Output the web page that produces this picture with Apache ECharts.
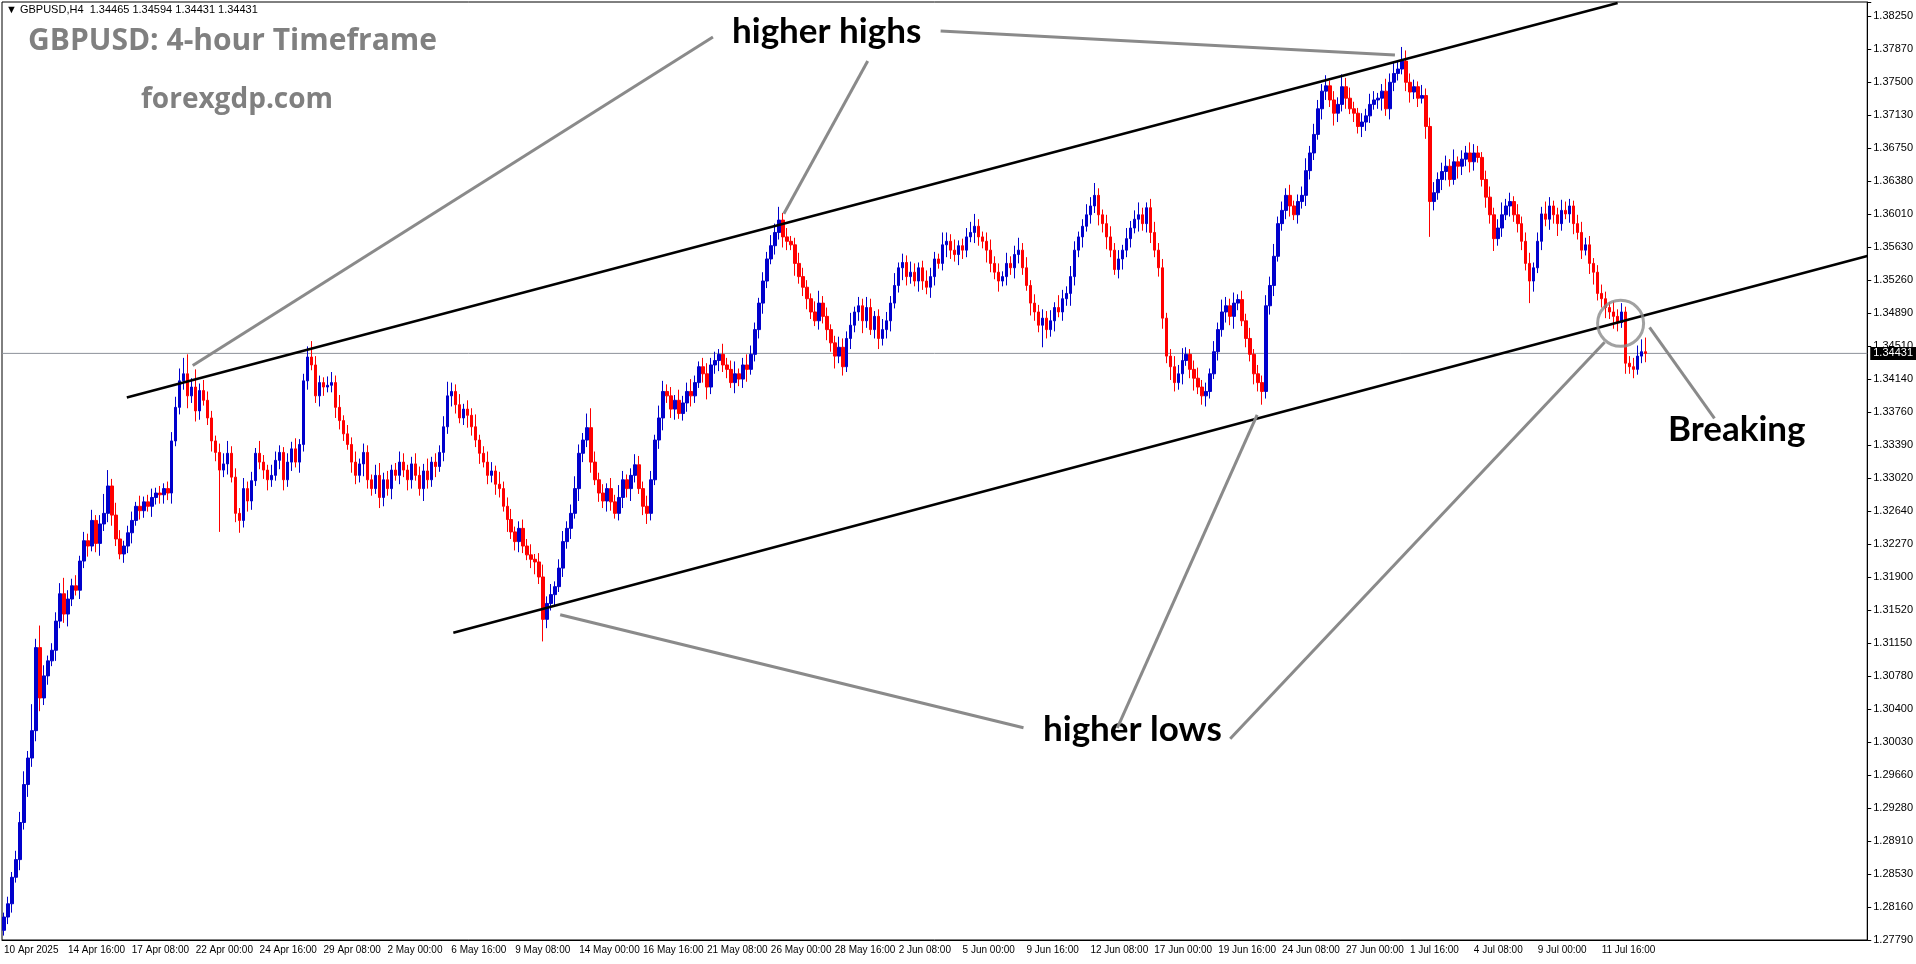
<!DOCTYPE html>
<html><head><meta charset="utf-8">
<script src="https://cdn.jsdelivr.net/npm/echarts@6/dist/echarts.min.js"></script>
<style>html,body{margin:0;padding:0;background:#fff}#c{width:1916px;height:964px}</style>
</head><body><div id="c"></div>
<script>
// closes in 1e-4 units above 1.0000
const closes = [
2805,2820,2850,2870,2912,2955,2985,3016,3110,3053,3078,3095,3107,3140,3171,3148,3165,3180,3175,3208,
3231,3225,3254,3228,3250,3262,3293,3260,3233,3216,3225,3240,3254,3270,3265,3275,3270,3280,3285,3283,
3290,3285,3344,3382,3412,3420,3395,3405,3378,3401,3390,3370,3344,3331,3311,3318,3330,3303,3262,3254,
3290,3276,3299,3330,3320,3311,3300,3305,3322,3331,3300,3320,3335,3320,3340,3412,3439,3430,3395,3410,
3405,3407,3410,3382,3367,3352,3340,3320,3305,3318,3331,3300,3290,3305,3280,3300,3290,3311,3305,3320,
3311,3300,3318,3305,3290,3310,3300,3320,3315,3331,3360,3395,3400,3385,3370,3380,3373,3360,3345,3330,
3320,3305,3310,3295,3290,3270,3255,3241,3230,3245,3225,3215,3210,3207,3190,3142,3160,3170,3179,3200,
3230,3245,3262,3290,3330,3345,3359,3320,3300,3285,3276,3290,3275,3262,3280,3300,3290,3305,3317,3290,
3270,3262,3300,3345,3370,3400,3395,3380,3390,3375,3387,3400,3395,3410,3428,3420,3405,3430,3435,3442,
3430,3425,3410,3420,3414,3430,3425,3442,3470,3500,3525,3550,3565,3580,3594,3575,3570,3566,3545,3530,
3518,3505,3490,3480,3500,3485,3470,3455,3440,3450,3428,3460,3475,3490,3497,3480,3495,3470,3485,3460,
3470,3480,3500,3520,3540,3546,3530,3535,3525,3540,3525,3518,3530,3550,3545,3566,3570,3560,3555,3565,
3560,3575,3580,3587,3575,3570,3560,3545,3535,3525,3530,3545,3540,3555,3560,3540,3520,3500,3490,3475,
3483,3470,3480,3495,3490,3505,3511,3530,3560,3575,3587,3600,3610,3622,3600,3590,3575,3560,3538,3550,
3560,3573,3585,3595,3600,3590,3608,3580,3560,3540,3483,3440,3428,3410,3420,3435,3442,3425,3415,3405,
3395,3400,3420,3445,3470,3490,3497,3485,3500,3504,3480,3460,3442,3420,3410,3400,3497,3520,3553,3590,
3605,3622,3610,3600,3615,3622,3650,3670,3691,3720,3740,3746,3730,3715,3725,3745,3732,3720,3715,3700,
3705,3712,3725,3730,3732,3740,3720,3750,3760,3765,3774,3750,3739,3745,3732,3735,3700,3615,3625,3640,
3649,3655,3640,3660,3655,3663,3670,3660,3670,3665,3640,3620,3600,3573,3585,3600,3610,3615,3600,3590,
3570,3545,3525,3540,3570,3601,3595,3610,3600,3590,3605,3601,3610,3590,3580,3560,3566,3545,3535,3511,
3505,3495,3490,3485,3478,3490,3432,3428,3425,3440,3445,3443.1];
const firstOpen = 2790;
const upWick = [
5,8,6,10,12,15,8,30,10,25,12,6,8,10,12,18,10,8,12,6,
10,8,12,6,10,22,18,8,14,10,6,8,10,5,12,6,8,10,6,8,
6,8,10,12,14,18,22,10,20,8,12,10,8,6,10,12,14,8,10,6,
12,8,10,6,14,8,6,12,10,8,6,10,8,12,6,8,12,18,10,8,
6,10,12,8,14,6,10,8,12,6,10,8,6,12,14,8,10,6,8,12,
10,6,8,12,10,8,14,6,10,8,12,16,10,8,12,6,10,8,14,6,
8,12,10,6,14,8,10,12,6,8,10,8,12,6,10,14,8,12,6,10,
12,8,10,14,10,8,16,22,12,8,10,6,12,8,14,10,6,8,12,10,
8,12,10,6,14,12,8,10,6,12,8,10,14,8,6,10,12,8,10,6,
12,8,10,14,6,8,12,10,8,6,10,8,12,10,15,8,10,6,8,12,
10,8,6,12,14,8,10,6,8,12,10,8,14,6,10,8,12,10,6,8,
12,10,8,14,6,10,8,12,10,6,8,12,10,8,6,14,10,8,12,6,
8,10,12,14,8,6,10,12,8,10,6,12,8,10,14,8,12,6,10,8,
10,8,12,6,14,10,8,12,10,6,8,12,10,14,8,6,10,12,8,10,
6,12,8,10,14,8,6,10,12,8,10,6,8,12,10,14,8,6,10,12,
8,10,6,12,8,14,10,8,12,6,10,8,12,6,10,8,12,10,14,8,
10,8,12,6,8,10,14,8,12,10,8,12,6,10,8,14,10,12,8,6,
10,8,12,10,6,8,14,10,12,8,16,12,10,8,6,12,8,10,12,8,
10,12,8,14,6,10,8,12,10,8,6,10,12,8,10,14,8,10,6,12,
8,10,12,6,10,8,14,10,6,8,12,10,8,6,10,12,8,10,6,8,
10,8,6,12,8,10,6,8,10,12,14,16];
const dnWick = [
6,8,10,6,12,8,14,10,12,15,8,10,6,12,8,10,14,8,6,10,
8,12,6,10,14,8,10,12,8,6,10,8,12,6,10,8,6,12,8,10,
10,8,12,6,8,10,14,8,12,10,6,8,12,10,70,8,12,6,10,14,
8,12,10,6,8,10,12,8,6,10,12,8,10,6,12,8,10,6,8,12,
10,6,8,12,10,8,6,12,10,8,14,10,8,6,12,10,8,12,6,10,
8,12,10,6,8,14,10,8,12,6,10,8,12,10,6,8,14,10,8,12,
6,10,8,12,10,6,14,8,10,12,8,6,10,14,8,25,10,8,12,6,
10,8,12,6,14,10,8,12,6,10,8,12,10,6,8,12,10,14,8,6,
10,12,8,6,10,14,8,10,12,6,8,10,12,8,6,10,14,8,10,12,
8,10,6,12,8,10,14,6,8,10,12,8,6,10,8,12,10,6,14,8,
10,12,8,6,10,8,12,10,14,8,10,6,12,8,10,14,8,6,10,12,
8,10,12,6,8,14,10,8,6,12,10,8,12,10,6,8,14,10,8,12,
10,8,6,12,10,8,14,10,8,12,6,10,8,12,10,8,6,14,10,8,
25,10,8,12,6,10,8,14,10,8,12,6,10,8,12,10,14,8,6,10,
12,8,10,6,14,8,10,12,8,10,12,8,15,10,8,12,6,10,14,8,
10,12,8,6,10,8,12,10,14,8,6,10,8,12,10,15,8,10,12,6,
8,10,12,6,10,8,12,10,8,6,12,10,8,14,10,8,12,6,10,8,
12,10,8,6,10,14,8,12,10,8,6,10,12,8,10,6,14,40,10,8,
12,10,8,6,14,10,8,12,10,6,8,12,10,14,8,10,6,12,8,10,
10,8,25,12,6,10,8,12,10,14,8,6,10,12,8,10,6,12,14,8,
10,12,8,14,10,6,12,8,10,6,8,10];
const xTickLabels = ['10 Apr 2025','14 Apr 16:00','17 Apr 08:00','22 Apr 00:00','24 Apr 16:00','29 Apr 08:00','2 May 00:00','6 May 16:00','9 May 08:00','14 May 00:00','16 May 16:00','21 May 08:00','26 May 00:00','28 May 16:00','2 Jun 08:00','5 Jun 00:00','9 Jun 16:00','12 Jun 08:00','17 Jun 00:00','19 Jun 16:00','24 Jun 08:00','27 Jun 00:00','1 Jul 16:00','4 Jul 08:00','9 Jul 00:00','11 Jul 16:00'];
const yTickLabels = ['1.27790','1.28160','1.28530','1.28910','1.29280','1.29660','1.30030','1.30400','1.30780','1.31150','1.31520','1.31900','1.32270','1.32640','1.33020','1.33390','1.33760','1.34140','1.34510','1.34890','1.35260','1.35630','1.36010','1.36380','1.36750','1.37130','1.37500','1.37870','1.38250'];
const lastPrice = 1.34431;
// annotation lines: [barIndex, price]
const upperChannel = [[30.75,1.33932],[404,1.38398]];
const lowerChannel = [[112.5,1.31269],[466.5,1.35534]];
const pointerLines = [
 [[47.25,1.34295],[177.5,1.38012]],
 [[195.25,1.36011],[216.25,1.3774]],
 [[234.5,1.3808],[348.25,1.37808]],
 [[139.25,1.31473],[255.25,1.30192]],
 [[313.75,1.33734],[278.75,1.30192]],
 [[400.75,1.34556],[307,1.30068]],
 [[412,1.34726],[428.25,1.33694]]
];
const breakCircle = [404.75,1.34771];

const SLOTS = 467;
const cats = []; for (let i=0;i<SLOTS;i++) cats.push(String(i));
const ohlc = [];
let prev = firstOpen;
for (let i=0;i<closes.length;i++){
  const o = prev, c = closes[i];
  const hi = Math.max(o,c)+upWick[i], lo = Math.min(o,c)-dnWick[i];
  ohlc.push([1+o/1e4, 1+c/1e4, 1+lo/1e4, 1+hi/1e4]);
  prev = c;
}
const YMIN=1.2779, YMAX=1.38409, STEP=(1.3825-1.2779)/28;

const annSeries = [];
const mk = (d,color,w)=>({type:'line',xAxisIndex:1,yAxisIndex:0,data:d,symbol:'none',silent:true,
  lineStyle:{color:color,width:w},z:5,animation:false});
annSeries.push({type:'line',xAxisIndex:1,yAxisIndex:0,data:[[-0.5,lastPrice],[466.5,lastPrice]],symbol:'none',silent:true,
  lineStyle:{color:'#8c9199',width:1},z:1,animation:false,
  endLabel:{show:true,formatter:'1.34431',backgroundColor:'#000',color:'#fff',fontFamily:'Liberation Sans',fontSize:11,padding:[1,3],distance:3}});
annSeries.push(mk(upperChannel,'#000',2.5));
annSeries.push(mk(lowerChannel,'#000',2.5));
pointerLines.forEach(p=>annSeries.push(mk(p,'#8a8a8a',3)));
annSeries.push({type:'scatter',xAxisIndex:1,yAxisIndex:0,data:[breakCircle],symbol:'circle',symbolSize:46,
  itemStyle:{color:'rgba(0,0,0,0)',borderColor:'#8a8a8a',borderWidth:3},z:6,silent:true,animation:false});

const chart = echarts.init(document.getElementById('c'));
const TF = 'Liberation Sans';
chart.setOption({
  animation:false,
  backgroundColor:'#fff',
  grid:{left:2,right:46,top:2,bottom:24,show:true,borderColor:'#000',borderWidth:1,backgroundColor:'#fff'},
  xAxis:[
    {type:'category',data:cats,boundaryGap:true,
     axisLine:{lineStyle:{color:'#000'}},
     axisTick:{alignWithLabel:true,length:4,lineStyle:{color:'#000'},interval:(i)=>i%16===0},
     axisLabel:{interval:0,align:'left',margin:5,color:'#000',fontFamily:TF,fontSize:10,
       formatter:(v,i)=> (i%16===0 && xTickLabels[i/16]) ? xTickLabels[i/16] : ''},
     splitLine:{show:false}},
    {type:'value',min:-0.5,max:466.5,show:false}
  ],
  yAxis:[
    {type:'value',min:YMIN,max:YMAX,show:false,scale:true},
    {type:'value',min:0,max:(YMAX-YMIN)/STEP,interval:1,position:'right',
     axisLine:{show:true,lineStyle:{color:'#000'}},
     axisTick:{show:true,length:4,inside:false,lineStyle:{color:'#000'}},
     splitLine:{show:false},
     axisLabel:{color:'#000',fontFamily:TF,fontSize:11,margin:6,
       formatter:(v)=>{const k=Math.round(v);return Math.abs(v-k)<1e-6&&yTickLabels[k]?yTickLabels[k]:'';}}}
  ],
  series:[
    {type:'candlestick',xAxisIndex:0,yAxisIndex:0,data:ohlc,barWidth:3,
     itemStyle:{color:'#0000cc',color0:'#ff0000',borderColor:'#0000cc',borderColor0:'#ff0000',borderWidth:1}},
    ...annSeries
  ],
  graphic:[
    {type:'text',left:6,top:4,style:{text:'▼ GBPUSD,H4  1.34465 1.34594 1.34431 1.34431',fill:'#000',font:'11px "Liberation Sans"'}},
    {type:'text',left:28,top:26,style:{text:'GBPUSD: 4-hour Timeframe',fill:'#808080',font:'bold 30px "Open Sans"'}},
    {type:'text',left:141,top:86,style:{text:'forexgdp.com',fill:'#808080',font:'bold 28px "Open Sans"'}},
    {type:'text',left:732,top:14,style:{text:'higher highs',fill:'#000',font:'bold 35px Lato'}},
    {type:'text',left:1043,top:712,style:{text:'higher lows',fill:'#000',font:'bold 35px Lato'}},
    {type:'text',left:1668,top:412,style:{text:'Breaking',fill:'#000',font:'bold 35px Lato'}}
  ]
});
</script></body></html>
